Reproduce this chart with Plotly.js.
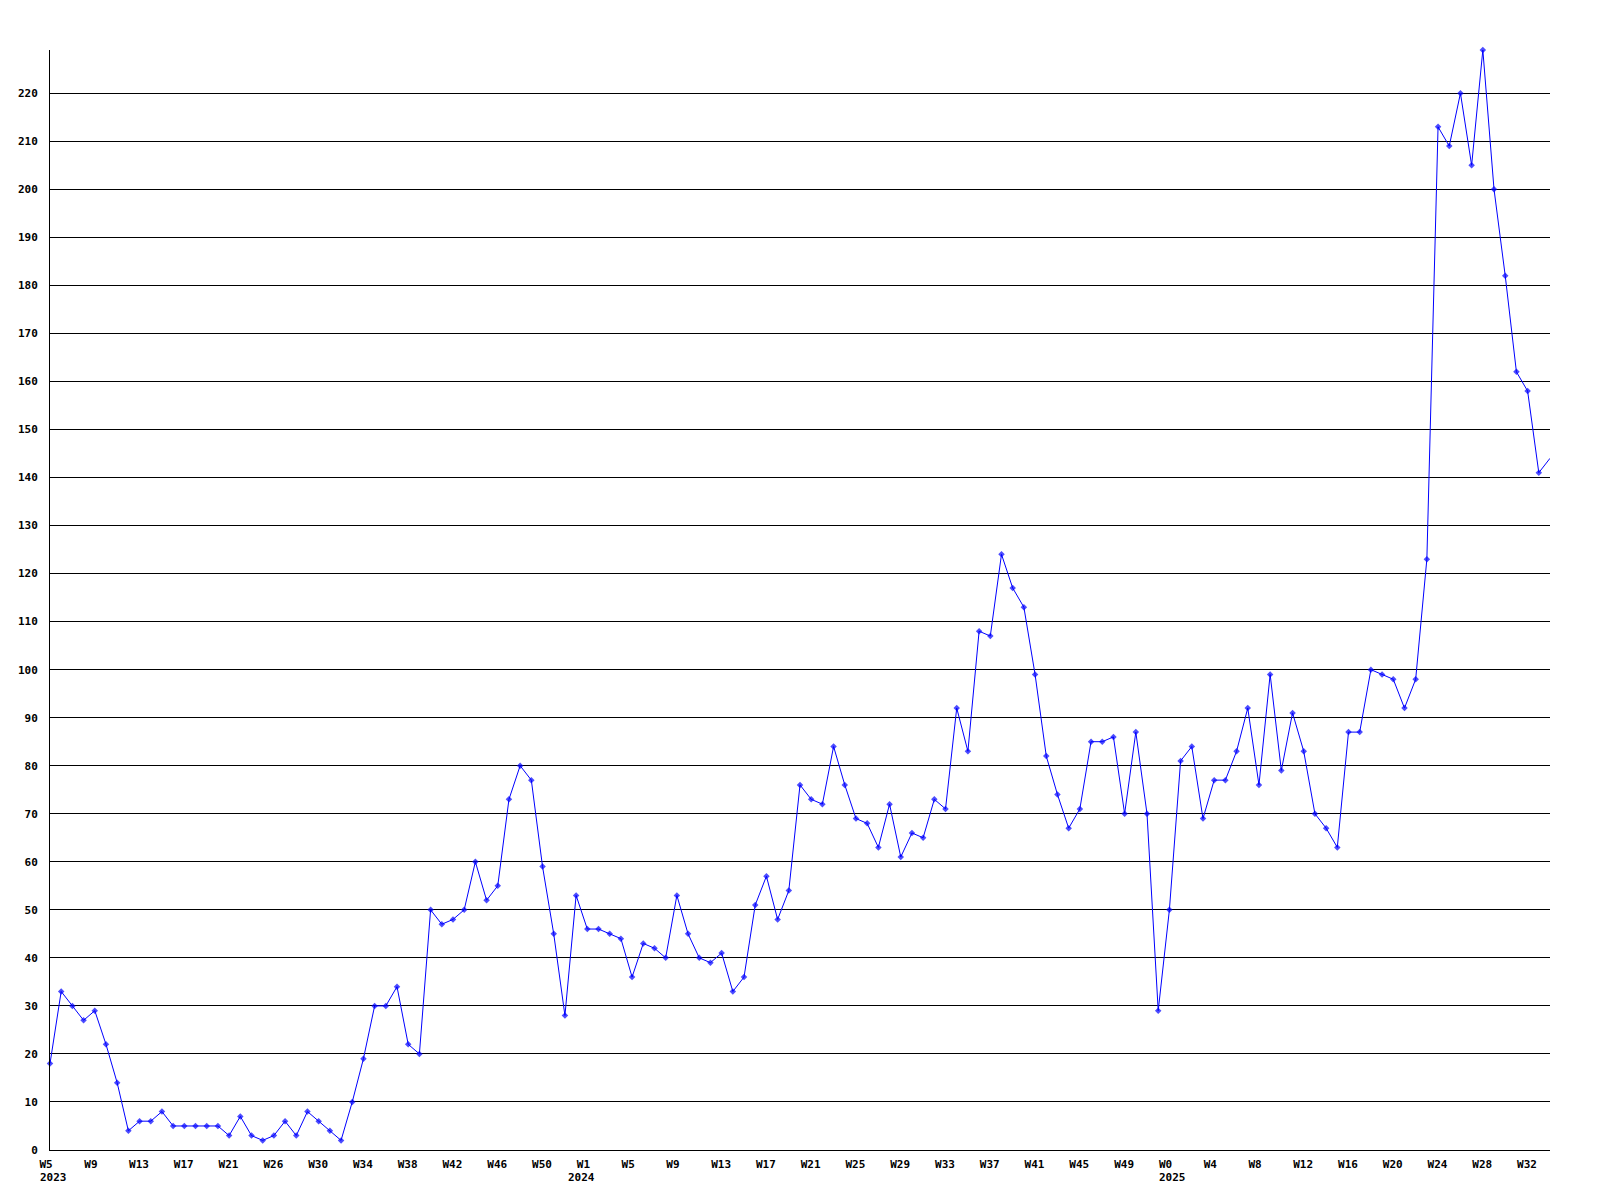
<!DOCTYPE html>
<html>
<head>
<meta charset="utf-8">
<script src="https://cdn.plot.ly/plotly-3.0.1.min.js"></script>
<style>html,body{margin:0;padding:0;background:#fff;}</style>
</head>
<body>
<div id="chart" style="width:1600px;height:1200px;"></div>
<script>
// Weekly values
const values2023 = [18,33,30,27,29,22,14,4,6,6,8,5,5,5,5,5,3,7,3,2,3,6,3,8,6,4,2,10,19,30,30,34,22,20,50,47,48,50,60,52,55,73,80,77,59,45,28,53];
const values2024 = [46,46,45,44,36,43,42,40,53,45,40,39,41,33,36,51,57,48,54,76,73,72,84,76,69,68,63,72,61,66,65,73,71,92,83,108,107,124,117,113,99,82,74,67,71,85,85,86,70,87,70,29];
const values2025 = [50,81,84,69,77,77,83,92,76,99,79,91,83,70,67,63,87,87,100,99,98,92,98,123,213,209,220,205,229,200,182,162,158,141,144];

// Tick labels (one every 4 points)
const ticks2023 = ['W5','W9','W13','W17','W21','W26','W30','W34','W38','W42','W46','W50'];
const ticks2024 = ['W1','W5','W9','W13','W17','W21','W25','W29','W33','W37','W41','W45','W49'];
const ticks2025 = ['W0','W4','W8','W12','W16','W20','W24','W28','W32'];
const yearLabels = ['2023','2024','2025'];

const values = values2023.concat(values2024, values2025);
const xs = values.map((v, i) => i);
const tickText = ticks2023.concat(ticks2024, ticks2025);
const tickVals = tickText.map((t, i) => i * 4);
const yearStarts = [0, ticks2023.length * 4, (ticks2023.length + ticks2024.length) * 4];
const yearShift = [-12, -21, -12];

const markerSizes = values.map((v, i) => i === values.length - 1 ? 0 : 5);
const yTicks = [];
for (let v = 0; v <= 220; v += 10) yTicks.push(v);

const font = {family: 'DejaVu Sans Mono, Liberation Mono, monospace', size: 11, color: '#000', weight: 'bold'};

const trace = {
  x: xs,
  y: values,
  type: 'scatter',
  mode: 'lines+markers',
  line: {color: '#0000ff', width: 1},
  marker: {color: '#0000ff', symbol: 'diamond', size: markerSizes, line: {width: 0}},
  hoverinfo: 'x+y',
  cliponaxis: false
};

const annotations = yearLabels.map((t, i) => ({
  text: t,
  x: yearStarts[i],
  xref: 'x',
  y: 0,
  yref: 'paper',
  xanchor: 'left',
  yanchor: 'middle',
  xshift: yearShift[i],
  yshift: -27,
  showarrow: false,
  font: font
}));

const layout = {
  width: 1600,
  height: 1200,
  margin: {l: 50, r: 50, t: 50, b: 50, pad: 0},
  paper_bgcolor: '#fff',
  plot_bgcolor: '#fff',
  showlegend: false,
  font: font,
  xaxis: {
    range: [0, values.length - 1],
    tickmode: 'array',
    tickvals: tickVals,
    ticktext: tickText,
    tickfont: font,
    ticks: '',
    ticklabelposition: 'outside right',
    ticklabelshift: -11,
    ticklabelstandoff: 4,
    showgrid: false,
    zeroline: false,
    showline: true,
    linecolor: '#000',
    linewidth: 1
  },
  yaxis: {
    range: [0, 229],
    tickmode: 'array',
    tickvals: yTicks,
    ticktext: yTicks.map(String),
    tickfont: font,
    ticks: '',
    ticklabelstandoff: 9,
    showgrid: true,
    gridcolor: '#000',
    gridwidth: 1,
    zeroline: false,
    showline: true,
    linecolor: '#000',
    linewidth: 1
  },
  annotations: annotations
};

Plotly.newPlot('chart', [trace], layout, {displayModeBar: false, staticPlot: true});
</script>
</body>
</html>
